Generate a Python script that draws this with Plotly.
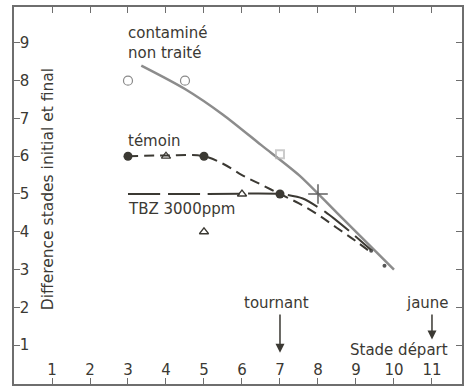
import plotly.graph_objects as go

# ---- data ----
x_ticks = [1, 2, 3, 4, 5, 6, 7, 8, 9, 10, 11]
y_ticks = [1, 2, 3, 4, 5, 6, 7, 8, 9]

# contaminé non traité
cont_line_x = [3.35, 4.5, 5.5, 6.5, 7.5, 8.5, 10.0]
cont_line_y = [8.4, 7.78, 7.1, 6.3, 5.5, 4.5, 3.0]
cont_pts_x = [3, 4.5]
cont_pts_y = [8, 8]
cont_extra_x = [7, 8]
cont_extra_y = [6.05, 5.0]
cont_dots_x = [9.4, 9.75]
cont_dots_y = [3.5, 3.1]

# témoin
tem_line_x = [3, 4, 5, 5.5, 6, 6.5, 7, 7.5, 8, 8.5, 9, 9.4]
tem_line_y = [6, 6.02, 6, 5.8, 5.5, 5.25, 5.0, 4.75, 4.45, 4.1, 3.75, 3.45]
tem_pts_x = [3, 5, 7]
tem_pts_y = [6, 6, 5]

# TBZ 3000 ppm
tbz_line_x = [3, 5, 7, 7.6, 8.2, 8.8, 9.4]
tbz_line_y = [5, 5, 5, 4.88, 4.52, 4.04, 3.52]
tbz_pts_x = [4, 6, 5]
tbz_pts_y = [6, 5, 4]

ink = "#3b3933"
gray = "#8c8c8c"
font = "DejaVu Sans"

fig = go.Figure()

fig.add_trace(go.Scatter(x=cont_line_x, y=cont_line_y, mode="lines",
                         line=dict(color=gray, width=2.5, shape="spline", smoothing=0.8),
                         hoverinfo="skip"))
fig.add_trace(go.Scatter(x=cont_pts_x, y=cont_pts_y, mode="markers",
                         marker=dict(symbol="circle-open", size=9,
                                     color="#8a8a8a", line=dict(width=1.2))))
fig.add_trace(go.Scatter(x=cont_extra_x, y=cont_extra_y, mode="markers",
                         marker=dict(symbol=["square-open", "cross-thin"], size=[8, 14],
                                     color=["#b5b5b5", "#555555"],
                                     line=dict(width=2, color=["#b5b5b5", "#555555"]))))
fig.add_trace(go.Scatter(x=cont_dots_x, y=cont_dots_y, mode="markers",
                         marker=dict(symbol="circle", size=4, color="#555555")))

fig.add_trace(go.Scatter(x=tem_line_x, y=tem_line_y, mode="lines",
                         line=dict(color=ink, width=2, dash="10px,6px", shape="spline"),
                         hoverinfo="skip"))
fig.add_trace(go.Scatter(x=tbz_line_x, y=tbz_line_y, mode="lines",
                         line=dict(color=ink, width=2, dash="32px,8px", shape="spline",
                                   smoothing=0.6),
                         hoverinfo="skip"))
fig.add_trace(go.Scatter(x=tem_pts_x, y=tem_pts_y, mode="markers",
                         marker=dict(symbol="circle", size=9, color=ink)))
fig.add_trace(go.Scatter(x=tbz_pts_x, y=tbz_pts_y, mode="markers",
                         marker=dict(symbol="triangle-up-open", size=8, color=ink,
                                     line=dict(width=1.3))))

axis_common = dict(showgrid=False, zeroline=False, showline=True, mirror="ticks",
                   linecolor="#6e6e6e", linewidth=1.5, ticks="inside", ticklen=6,
                   tickcolor="#6e6e6e", tickwidth=1.2,
                   tickfont=dict(family=font, size=15, color=ink),
                   ticklabelposition="inside")

fig.update_xaxes(range=[0, 11.79], tickvals=x_ticks, ticktext=[str(v) for v in x_ticks],
                 **axis_common)
fig.update_yaxes(range=[-0.03, 9.95], tickvals=y_ticks, ticktext=[str(v) for v in y_ticks],
                 **axis_common)

txt = dict(family=font, size=15, color=ink)
ann = [
    dict(x=2.95, y=9.0, text="contaminé<br>non traité", xanchor="left", yanchor="middle",
         showarrow=False, align="left", font=txt),
    dict(x=2.95, y=6.4, text="témoin", xanchor="left", yanchor="middle",
         showarrow=False, font=txt),
    dict(x=2.95, y=4.6, text="TBZ 3000ppm", xanchor="left", yanchor="middle",
         showarrow=False, font=txt),
    dict(x=6.9, y=2.12, text="tournant", xanchor="center", yanchor="middle",
         showarrow=False, font=txt),
    dict(x=10.87, y=2.12, text="jaune", xanchor="center", yanchor="middle",
         showarrow=False, font=txt),
    dict(x=10.13, y=0.88, text="Stade départ", xanchor="center", yanchor="middle",
         showarrow=False, font=txt),
    dict(x=7, y=0.8, ax=7, ay=1.85, axref="x", ayref="y", text="", showarrow=True,
         arrowhead=2, arrowsize=1.2, arrowwidth=1.5, arrowcolor=ink),
    dict(x=11, y=1.15, ax=11, ay=1.85, axref="x", ayref="y", text="", showarrow=True,
         arrowhead=2, arrowsize=1.2, arrowwidth=1.5, arrowcolor=ink),
    dict(x=0.9, y=5.13, text="Difference stades initial et final", textangle=-90,
         xanchor="center", yanchor="middle", showarrow=False,
         font=dict(family=font, size=15.5, color=ink)),
]
fig.update_layout(annotations=ann, showlegend=False, width=471, height=389,
                  margin=dict(l=14, r=9, t=7, b=5),
                  paper_bgcolor="white", plot_bgcolor="white")

fig.write_html("out.html", config={"displayModeBar": False},
               post_script="document.body.style.margin='0';document.body.style.overflow='hidden';")
